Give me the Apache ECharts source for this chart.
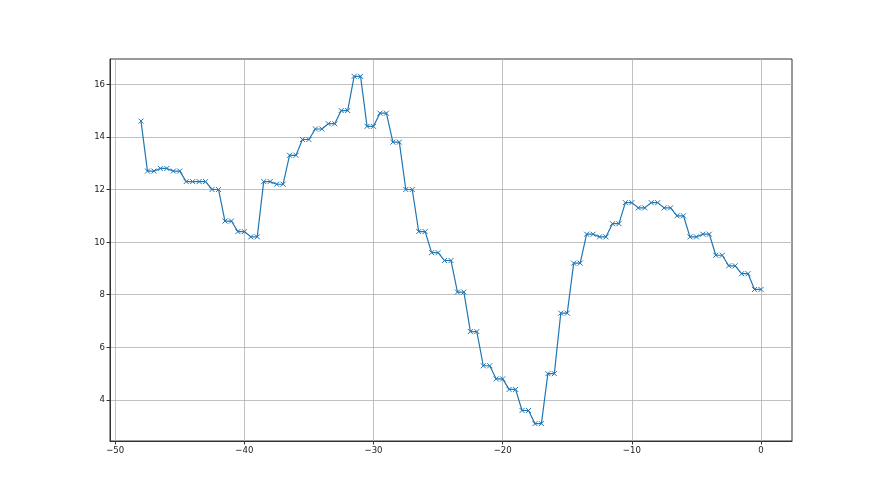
<!DOCTYPE html>
<html>
<head>
<meta charset="utf-8">
<script src="https://cdn.jsdelivr.net/npm/echarts@6/dist/echarts.min.js"></script>
<style>
html,body{margin:0;padding:0;background:#fff;}
#c{width:880px;height:495px;}
</style>
</head>
<body>
<div id="c"></div>
<script>
const xValues = [-48,
  -47.5,-47,-46.5,-46,-45.5,-45,-44.5,-44,-43.5,-43,-42.5,-42,-41.5,-41,-40.5,-40,
  -39.5,-39,-38.5,-38,-37.5,-37,-36.5,-36,-35.5,-35,-34.5,-34,-33.5,-33,-32.5,-32,
  -31.5,-31,-30.5,-30,-29.5,-29,-28.5,-28,-27.5,-27,-26.5,-26,-25.5,-25,-24.5,-24,
  -23.5,-23,-22.5,-22,-21.5,-21,-20.5,-20,-19.5,-19,-18.5,-18,-17.5,-17,-16.5,-16,
  -15.5,-15,-14.5,-14,-13.5,-13,-12.5,-12,-11.5,-11,-10.5,-10,-9.5,-9,-8.5,-8,
  -7.5,-7,-6.5,-6,-5.5,-5,-4.5,-4,-3.5,-3,-2.5,-2,-1.5,-1,-0.5,0];
const yValues = [14.6,
  12.7,12.7,12.8,12.8,12.7,12.7,12.3,12.3,12.3,12.3,12.0,12.0,10.8,10.8,10.4,10.4,
  10.2,10.2,12.3,12.3,12.2,12.2,13.3,13.3,13.9,13.9,14.3,14.3,14.5,14.5,15.0,15.0,
  16.3,16.3,14.4,14.4,14.9,14.9,13.8,13.8,12.0,12.0,10.4,10.4,9.6,9.6,9.3,9.3,
  8.1,8.1,6.6,6.6,5.3,5.3,4.8,4.8,4.4,4.4,3.6,3.6,3.1,3.1,5.0,5.0,
  7.3,7.3,9.2,9.2,10.3,10.3,10.2,10.2,10.7,10.7,11.5,11.5,11.3,11.3,11.5,11.5,
  11.3,11.3,11.0,11.0,10.2,10.2,10.3,10.3,9.5,9.5,9.1,9.1,8.8,8.8,8.2,8.2];
const xTicks = [-50,-40,-30,-20,-10,0];
const yTicks = [4,6,8,10,12,14,16];

const data = xValues.map((x,i)=>[x,yValues[i]]);
const chart = echarts.init(document.getElementById('c'), null, {renderer:'canvas'});
const labelStyle = {color:'#222', fontSize:9.5, fontFamily:'"DejaVu Sans Condensed","Liberation Sans Narrow","DejaVu Sans"'};
chart.setOption({
  animation:false,
  backgroundColor:'#fff',
  grid:{left:110, right:88, top:59, bottom:54, show:true, borderColor:'#333', borderWidth:1, backgroundColor:'transparent', containLabel:false},
  xAxis:{
    type:'value', min:-50.4, max:2.4,
    axisLine:{show:true, onZero:false, lineStyle:{color:'#333', width:1}},
    axisTick:{show:true, length:3.5, inside:false, customValues:xTicks, lineStyle:{color:'#333'}},
    axisLabel:{show:true, customValues:xTicks, margin:5, ...labelStyle,
      formatter:v=>(v<0?'\u2212'+Math.abs(v):String(v))},
    splitLine:{show:true, lineStyle:{color:'#b0b0b0', width:0.8}}
  },
  yAxis:{
    type:'value', min:2.44, max:16.96,
    axisLine:{show:true, onZero:false, lineStyle:{color:'#333', width:1}},
    axisTick:{show:true, length:3.5, inside:false, customValues:yTicks, lineStyle:{color:'#333'}},
    axisLabel:{show:true, customValues:yTicks, margin:5, ...labelStyle},
    splitLine:{show:true, lineStyle:{color:'#b0b0b0', width:0.8}}
  },
  series:[{
    type:'line', data:data,
    lineStyle:{color:'#1f77b4', width:1.2},
    symbol:'path://M0,0L10,10M0,10L10,0',
    symbolSize:5,
    showAllSymbol:true,
    itemStyle:{color:'#1f77b4', borderColor:'#1f77b4', borderWidth:1},
    emphasis:{disabled:true}
  }]
});
</script>
</body>
</html>
